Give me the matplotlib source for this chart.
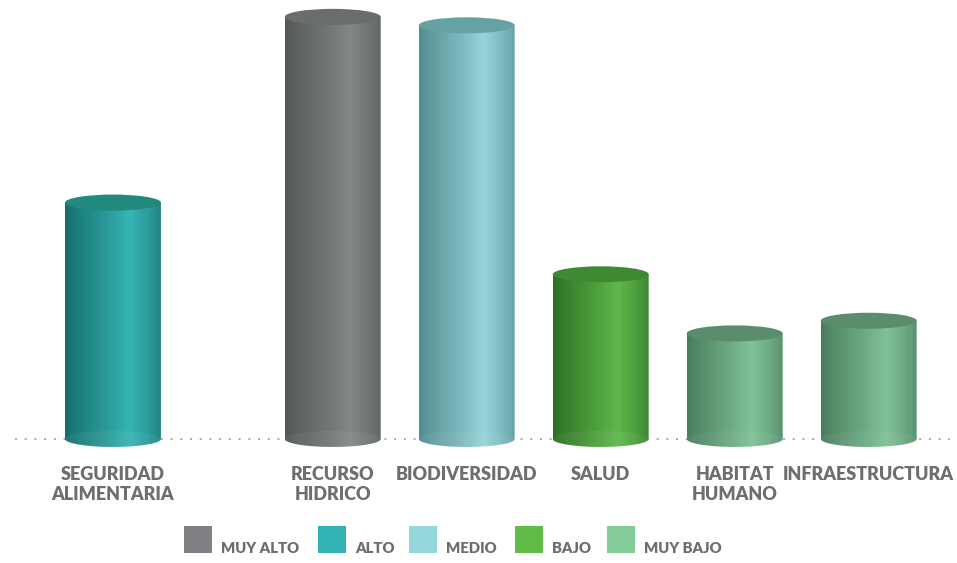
import numpy as np
import matplotlib.pyplot as plt
from matplotlib.patches import Ellipse, Rectangle, PathPatch
from matplotlib.path import Path
from matplotlib.colors import to_rgb

# ---------------- data ----------------
categories = ["SEGURIDAD\nALIMENTARIA", "RECURSO\nHIDRICO", "BIODIVERSIDAD",
              "SALUD", "HABITAT\nHUMANO", "INFRAESTRUCTURA"]
values = [56, 100, 98, 39, 25, 28]
levels = ["ALTO", "MUY ALTO", "MEDIO", "BAJO", "MUY BAJO", "MUY BAJO"]
legend_labels = ["MUY ALTO", "ALTO", "MEDIO", "BAJO", "MUY BAJO"]

# legend swatch colours
legend_colors = {"MUY ALTO": "#808184", "ALTO": "#32b3b5", "MEDIO": "#96d7dd",
                 "BAJO": "#62bb47", "MUY BAJO": "#85cc9b"}
# cylinder shading: (dark side, highlight, top)
shades = {"MUY ALTO": ("#535758", "#848788", "#6a6d6e"),
          "ALTO": ("#166f6d", "#37b4b4", "#22897f"),
          "MEDIO": ("#538c91", "#95d4d8", "#66a2a3"),
          "BAJO": ("#2c7025", "#60b84b", "#3d8a32"),
          "MUY BAJO": ("#4a7d5e", "#80c298", "#5b8d6d")}

text_gray = "#6d6e71"

# ---------------- layout ----------------
xpos = np.concatenate([[0.0], 0.64 + np.arange(1, len(values))])
bar_w = 0.716
ell_h = 3.8

fig = plt.figure(figsize=(9.57, 5.63), dpi=100)
ax = fig.add_axes([0, 0, 1, 1])
ax.axis("off")

# dotted baseline
ax.plot([-0.73, 6.25], [0, 0], linestyle=(0, (1, 4)), color="#a7a9ac",
        linewidth=1.4, zorder=0)

t = np.linspace(0, 1, 36)
profile = np.interp(t, [0, 0.08, 0.45, 0.68, 0.85, 1.0],
                    [0.0, 0.15, 0.65, 1.0, 0.7, 0.35])

for xc, v, lev in zip(xpos, values, levels):
    dark, light, top = shades[lev]
    d, l = np.array(to_rgb(dark)), np.array(to_rgb(light))
    grad = d[None, :] + profile[:, None] * (l - d)[None, :]
    x0, x1 = xc - bar_w / 2, xc + bar_w / 2

    th = np.linspace(0, -np.pi, 50)
    arc = np.column_stack([xc + bar_w / 2 * np.cos(th), ell_h / 2 * np.sin(th)])
    verts = np.vstack([[[x0, v], [x1, v]], arc, [[x0, v]]])
    codes = [Path.MOVETO] + [Path.LINETO] * (len(verts) - 2) + [Path.CLOSEPOLY]
    clip = PathPatch(Path(verts, codes), facecolor="none", edgecolor="none",
                     transform=ax.transData)
    ax.add_patch(clip)
    im = ax.imshow(grad[None, :, :], extent=[x0, x1, -ell_h / 2, v],
                   aspect="auto", interpolation="nearest", zorder=2)
    im.set_clip_path(clip)

    # faint front rim of the base
    ax.add_patch(Ellipse((xc, 0), bar_w, ell_h, facecolor="white", alpha=0.05,
                         edgecolor="none", zorder=2.5))
    # top cap
    ax.add_patch(Ellipse((xc, v), bar_w, ell_h, facecolor=top,
                         edgecolor="none", zorder=3))

for xc, cat in zip(xpos, categories):
    ax.text(xc, -6.3, cat, ha="center", va="top", fontsize=13,
            fontweight="heavy", color=text_gray, family="Lato",
            linespacing=1.25)

ax.set_xlim(-0.843, 6.299)
ax.set_ylim(-29.4, 104.0)

# ---------------- legend ----------------
sq_x = [184, 318, 409, 515, 607]
for px, lab in zip(sq_x, legend_labels):
    fig.patches.append(Rectangle((px / 957, (563 - 553) / 563), 28 / 957, 27 / 563,
                                 facecolor=legend_colors[lab], edgecolor="none",
                                 transform=fig.transFigure, figure=fig))
    fig.text((px + 37) / 957, (563 - 553) / 563, lab, ha="left", va="baseline",
             fontsize=10.7, fontweight="heavy", color=text_gray, family="Lato")

fig.savefig("out.png", dpi=100)
